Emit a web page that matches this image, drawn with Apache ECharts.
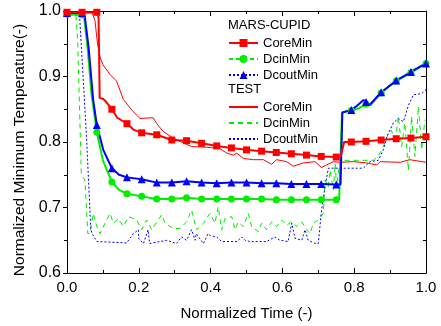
<!DOCTYPE html>
<html>
<head>
<meta charset="utf-8">
<script src="https://cdn.jsdelivr.net/npm/echarts@6/dist/echarts.min.js"></script>
<style>
  html, body { margin: 0; padding: 0; background: #fff; }
  #chart { width: 441px; height: 326px; }
</style>
</head>
<body>
<div id="chart"></div>
<script>
// MARS-CUPID results: points with markers (every 1/24) and bend points between them
const marsCoreMarks = [[0, 0.998], [0.042, 0.998], [0.083, 0.998], [0.125, 0.850], [0.167, 0.828], [0.208, 0.814], [0.25, 0.811], [0.292, 0.803], [0.333, 0.802], [0.375, 0.798], [0.417, 0.794], [0.458, 0.791], [0.5, 0.788], [0.542, 0.786], [0.583, 0.784], [0.625, 0.782], [0.667, 0.780], [0.708, 0.778], [0.75, 0.777], [0.792, 0.800], [0.833, 0.801], [0.875, 0.803], [0.917, 0.805], [0.958, 0.806], [1.0, 0.808]];
const marsCoreBends = [[0.088, 0.99], [0.091, 0.867], [0.100, 0.866], [0.106, 0.863], [0.14, 0.837], [0.185, 0.819], [0.762, 0.777], [0.772, 0.800]];

const marsDcinMarks = [[0, 0.995], [0.042, 0.994], [0.083, 0.815], [0.125, 0.739], [0.167, 0.721], [0.208, 0.717], [0.25, 0.713], [0.292, 0.713], [0.333, 0.715], [0.375, 0.713], [0.417, 0.713], [0.458, 0.713], [0.5, 0.713], [0.542, 0.713], [0.583, 0.712], [0.625, 0.712], [0.667, 0.712], [0.708, 0.712], [0.75, 0.712], [0.792, 0.848], [0.833, 0.858], [0.875, 0.875], [0.917, 0.893], [0.958, 0.906], [1.0, 0.920]];
const marsDcinBends = [[0.048, 0.99], [0.058, 0.94], [0.068, 0.875], [0.1, 0.772], [0.145, 0.727], [0.758, 0.712], [0.766, 0.845], [0.815, 0.852], [0.845, 0.856], [0.89, 0.882]];

const marsDcoutMarks = [[0, 0.997], [0.042, 0.997], [0.083, 0.826], [0.125, 0.760], [0.167, 0.746], [0.208, 0.743], [0.25, 0.738], [0.292, 0.738], [0.333, 0.740], [0.375, 0.738], [0.417, 0.737], [0.458, 0.738], [0.5, 0.738], [0.542, 0.737], [0.583, 0.737], [0.625, 0.736], [0.667, 0.736], [0.708, 0.736], [0.75, 0.735], [0.792, 0.849], [0.833, 0.861], [0.875, 0.876], [0.917, 0.894], [0.958, 0.907], [1.0, 0.920]];
const marsDcoutBends = [[0.05, 0.99], [0.06, 0.945], [0.073, 0.864], [0.101, 0.788], [0.145, 0.750], [0.762, 0.735], [0.767, 0.845], [0.807, 0.855], [0.826, 0.864], [0.844, 0.857], [0.89, 0.882], [0.94, 0.901], [0.98, 0.914]];

// TEST measurements
const testCore = [[0, 0.997], [0.07, 0.997], [0.078, 0.985], [0.085, 0.95], [0.092, 0.93], [0.1, 0.918], [0.12, 0.903], [0.138, 0.893], [0.157, 0.865], [0.18, 0.849], [0.203, 0.836], [0.24, 0.837], [0.25, 0.828], [0.268, 0.816], [0.296, 0.806], [0.319, 0.800], [0.347, 0.793], [0.389, 0.792], [0.426, 0.790], [0.445, 0.783], [0.463, 0.780], [0.473, 0.783], [0.491, 0.775], [0.519, 0.773], [0.547, 0.773], [0.57, 0.766], [0.584, 0.773], [0.612, 0.770], [0.63, 0.763], [0.658, 0.768], [0.691, 0.770], [0.709, 0.761], [0.723, 0.765], [0.742, 0.770], [0.76, 0.769], [0.798, 0.770], [0.835, 0.768], [0.863, 0.765], [0.872, 0.770], [0.928, 0.769], [0.955, 0.773], [1.0, 0.769]];

const testDcin = [[0, 0.995], [0.025, 0.993], [0.03, 0.95], [0.04, 0.75], [0.05, 0.742], [0.058, 0.66], [0.064, 0.661], [0.073, 0.691], [0.083, 0.671], [0.092, 0.660], [0.106, 0.676], [0.12, 0.691], [0.129, 0.676], [0.143, 0.683], [0.157, 0.671], [0.171, 0.686], [0.194, 0.681], [0.208, 0.666], [0.222, 0.681], [0.236, 0.666], [0.25, 0.678], [0.264, 0.689], [0.273, 0.676], [0.296, 0.668], [0.315, 0.668], [0.333, 0.678], [0.347, 0.696], [0.352, 0.694], [0.361, 0.666], [0.38, 0.676], [0.398, 0.691], [0.412, 0.676], [0.421, 0.701], [0.431, 0.666], [0.44, 0.683], [0.459, 0.686], [0.468, 0.666], [0.477, 0.678], [0.491, 0.671], [0.505, 0.691], [0.514, 0.671], [0.533, 0.663], [0.542, 0.676], [0.556, 0.666], [0.57, 0.678], [0.584, 0.671], [0.598, 0.681], [0.612, 0.673], [0.626, 0.678], [0.64, 0.671], [0.654, 0.678], [0.668, 0.666], [0.677, 0.660], [0.686, 0.676], [0.7, 0.681], [0.714, 0.691], [0.719, 0.742], [0.728, 0.732], [0.733, 0.757], [0.742, 0.727], [0.747, 0.767], [0.751, 0.732], [0.76, 0.772], [0.853, 0.772], [0.867, 0.778], [0.881, 0.793], [0.895, 0.813], [0.904, 0.818], [0.914, 0.798], [0.923, 0.839], [0.932, 0.793], [0.941, 0.829], [0.951, 0.757], [0.96, 0.839], [0.969, 0.778], [0.979, 0.854], [0.988, 0.788], [0.997, 0.834]];

const testDcout = [[0, 0.995], [0.035, 0.993], [0.04, 0.99], [0.05, 0.85], [0.055, 0.80], [0.06, 0.80], [0.066, 0.67], [0.069, 0.661], [0.078, 0.653], [0.083, 0.648], [0.166, 0.646], [0.185, 0.660], [0.199, 0.666], [0.2, 0.652], [0.213, 0.645], [0.226, 0.666], [0.23, 0.645], [0.278, 0.650], [0.305, 0.645], [0.319, 0.655], [0.333, 0.650], [0.347, 0.666], [0.357, 0.650], [0.36, 0.66], [0.38, 0.645], [0.393, 0.660], [0.4, 0.657], [0.417, 0.655], [0.431, 0.648], [0.473, 0.648], [0.487, 0.655], [0.496, 0.65], [0.51, 0.648], [0.556, 0.648], [0.579, 0.655], [0.593, 0.650], [0.616, 0.648], [0.626, 0.676], [0.635, 0.653], [0.654, 0.650], [0.663, 0.666], [0.672, 0.650], [0.691, 0.645], [0.700, 0.645], [0.709, 0.696], [0.719, 0.732], [0.728, 0.760], [0.825, 0.760], [0.844, 0.770], [0.867, 0.772], [0.881, 0.788], [0.891, 0.808], [0.909, 0.829], [0.923, 0.836], [0.937, 0.831], [0.951, 0.856], [0.965, 0.872], [0.988, 0.874], [1.0, 0.88]];

const xTicks = [0, 0.2, 0.4, 0.6, 0.8, 1.0];
const yTicks = [0.6, 0.7, 0.8, 0.9, 1.0];

const FONT = 'Liberation Sans, Arial, sans-serif';

// markers only on the 1/24 points, bend points drawn without symbol
function withMarks(marks, bends) {
    let pts = marks.map(p => ({value: p, m: true})).concat(bends.map(p => ({value: p, m: false})));
    pts.sort((a, b) => a.value[0] - b.value[0]);
    return pts.map(p => p.m ? {value: p.value} : {value: p.value, symbol: 'none'});
}

const myChart = echarts.init(document.getElementById('chart'), null, {renderer: 'canvas'});

const RED = '#ff0000', GREEN = '#00ee00', BLUE = '#0000ff';

function boxAxis(base) {
    return Object.assign({
        axisLine: {show: true, onZero: false, lineStyle: {color: '#000', width: 1}},
        splitLine: {show: false},
        minorSplitLine: {show: false}
    }, base);
}

const legendText = {fontSize: 13, color: '#000', lineHeight: 14, fontFamily: FONT};

const option = {
    animation: false,
    backgroundColor: '#fff',
    textStyle: {fontFamily: FONT},
    grid: {left: 67, right: 15, top: 11, bottom: 53, containLabel: false},
    graphic: [
        {type: 'text', left: 228, top: 19, style: {text: 'MARS-CUPID', font: '13px ' + FONT, fill: '#000'}},
        {type: 'text', left: 228, top: 83, style: {text: 'TEST', font: '13px ' + FONT, fill: '#000'}}
    ],
    legend: [
        {
            orient: 'vertical', left: 228, top: 36, padding: 0,
            itemWidth: 29, itemHeight: 10, itemGap: 2,
            textStyle: legendText,
            formatter: name => name.split(' ')[1],
            data: [
                {name: 'MARS CoreMin'},
                {name: 'MARS DcinMin', lineStyle: {type: [4, 3]}},
                {name: 'MARS DcoutMin', lineStyle: {type: [2, 2]}}
            ]
        },
        {
            orient: 'vertical', left: 228, top: 100, padding: 0,
            itemWidth: 29, itemHeight: 10, itemGap: 2,
            textStyle: legendText,
            formatter: name => name.split(' ')[1],
            data: [
                {name: 'TEST CoreMin', itemStyle: {opacity: 0}},
                {name: 'TEST DcinMin', itemStyle: {opacity: 0}},
                {name: 'TEST DcoutMin', itemStyle: {opacity: 0}}
            ]
        }
    ],
    xAxis: [
        boxAxis({
            type: 'value', position: 'bottom', min: 0, max: 1, interval: 0.2,
            axisTick: {show: true, inside: true, length: 5, lineStyle: {color: '#000'}},
            minorTick: {show: true, splitNumber: 2, length: 3, lineStyle: {color: '#000'}},
            axisLabel: {
                fontSize: 15, color: '#000', margin: 7, fontFamily: FONT,
                formatter: v => xTicks.some(t => Math.abs(t - v) < 1e-6) ? v.toFixed(1) : ''
            },
            name: 'Normalized Time (-)', nameLocation: 'middle', nameGap: 33,
            nameTextStyle: {fontSize: 15, color: '#000', fontFamily: FONT}
        }),
        boxAxis({
            type: 'value', position: 'top', min: 0, max: 1, interval: 0.2,
            axisTick: {show: true, inside: true, length: 5, lineStyle: {color: '#000'}},
            minorTick: {show: true, splitNumber: 2, length: 3, lineStyle: {color: '#000'}},
            axisLabel: {show: false}
        })
    ],
    yAxis: [
        boxAxis({
            type: 'value', position: 'left', min: 0.6, max: 1.0, interval: 0.1,
            axisTick: {show: true, inside: false, length: 4, lineStyle: {color: '#000'}},
            minorTick: {show: true, splitNumber: 2, length: 3, lineStyle: {color: '#000'}},
            axisLabel: {
                fontSize: 16, color: '#000', margin: 6, fontFamily: FONT,
                formatter: v => yTicks.some(t => Math.abs(t - v) < 1e-6) ? v.toFixed(1) : ''
            },
            name: 'Normalized Minimum Temperature(-)', nameLocation: 'middle', nameGap: 38,
            nameTextStyle: {fontSize: 15.5, color: '#000', fontFamily: FONT, padding: [0, 16, 0, 0]}
        }),
        boxAxis({
            type: 'value', position: 'right', min: 0.6, max: 1.0, interval: 0.1,
            axisTick: {show: true, inside: true, length: 5, lineStyle: {color: '#000'}},
            minorTick: {show: true, splitNumber: 2, length: 3, lineStyle: {color: '#000'}},
            axisLabel: {show: false}
        })
    ],
    series: [
        {
            name: 'TEST CoreMin', type: 'line', symbol: 'none', data: testCore,
            lineStyle: {color: RED, width: 1}, itemStyle: {color: RED}
        },
        {
            name: 'TEST DcinMin', type: 'line', symbol: 'none', data: testDcin,
            lineStyle: {color: GREEN, width: 1, type: [5, 4]}, itemStyle: {color: GREEN}
        },
        {
            name: 'TEST DcoutMin', type: 'line', symbol: 'none', data: testDcout,
            lineStyle: {color: BLUE, width: 1, type: [2, 2]}, itemStyle: {color: BLUE}
        },
        {
            name: 'MARS DcinMin', type: 'line', symbol: 'circle', symbolSize: 7,
            data: withMarks(marsDcinMarks, marsDcinBends),
            lineStyle: {color: GREEN, width: 2}, itemStyle: {color: GREEN}
        },
        {
            name: 'MARS DcoutMin', type: 'line', symbol: 'triangle', symbolSize: 8,
            data: withMarks(marsDcoutMarks, marsDcoutBends),
            lineStyle: {color: BLUE, width: 2}, itemStyle: {color: BLUE}
        },
        {
            name: 'MARS CoreMin', type: 'line', symbol: 'rect', symbolSize: 7,
            data: withMarks(marsCoreMarks, marsCoreBends),
            lineStyle: {color: RED, width: 2}, itemStyle: {color: RED}
        }
    ]
};

option && myChart.setOption(option);
</script>
</body>
</html>
